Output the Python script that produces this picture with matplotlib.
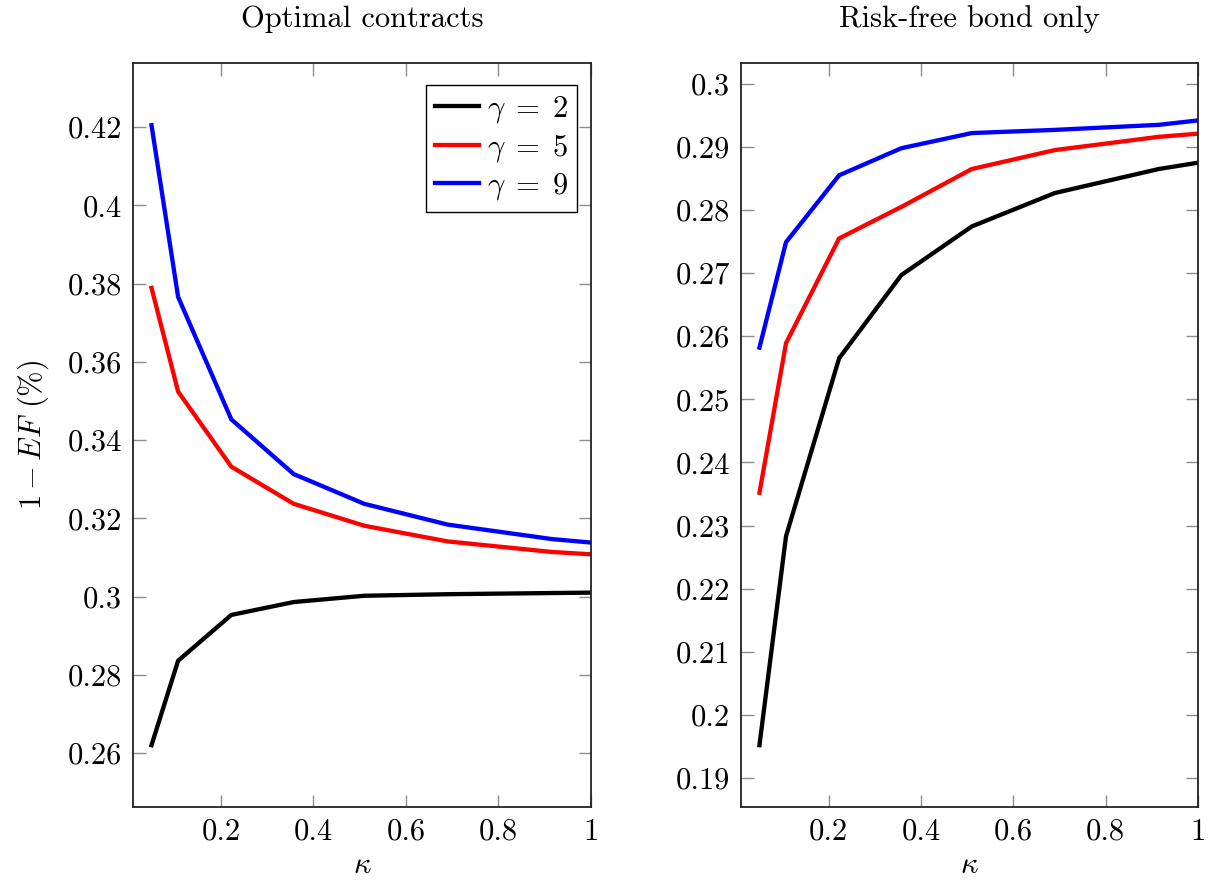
import matplotlib
matplotlib.use("Agg")
import matplotlib.pyplot as plt
from matplotlib.ticker import FuncFormatter, FixedLocator

plt.rcParams['font.family'] = ['cmr10', 'DejaVu Serif']
plt.rcParams['mathtext.fontset'] = 'cm'
plt.rcParams['axes.formatter.use_mathtext'] = True
plt.rcParams['axes.unicode_minus'] = False

kappa = [0.05, 0.1075, 0.2225, 0.3575, 0.51, 0.69, 0.915, 1.0]
labels = [r'$\gamma\;=\;2$', r'$\gamma\;=\;5$', r'$\gamma\;=\;9$']
colors = ['black', 'red', 'blue']

# Optimal contracts
opt_g2 = [0.2620, 0.2836, 0.2953, 0.2986, 0.3002, 0.3006, 0.3009, 0.3010]
opt_g5 = [0.3789, 0.3524, 0.3332, 0.3237, 0.3181, 0.3141, 0.3114, 0.3108]
opt_g9 = [0.4205, 0.3766, 0.3453, 0.3313, 0.3237, 0.3184, 0.3147, 0.3138]

# Risk-free bond only
rf_g2 = [0.1952, 0.2283, 0.2565, 0.2697, 0.2774, 0.2827, 0.2865, 0.2875]
rf_g5 = [0.2352, 0.2589, 0.2755, 0.2805, 0.2865, 0.2895, 0.2916, 0.2921]
rf_g9 = [0.2582, 0.2749, 0.2855, 0.2898, 0.2922, 0.2927, 0.2935, 0.2942]

xticks = [0.2, 0.4, 0.6, 0.8, 1.0]
yticks_left = [0.26, 0.28, 0.30, 0.32, 0.34, 0.36, 0.38, 0.40, 0.42]
yticks_right = [0.19, 0.20, 0.21, 0.22, 0.23, 0.24, 0.25, 0.26, 0.27, 0.28, 0.29, 0.30]

FS = 22
fig = plt.figure(figsize=(12.15, 8.82), dpi=100)
ax1 = fig.add_axes([133/1215, 1-807/882, 458/1215, 744/882])
ax2 = fig.add_axes([741/1215, 1-807/882, 457/1215, 744/882])

fmt = FuncFormatter(lambda v, p: ('%g' % round(v, 4)))

def style(ax, yticks, ylim, title):
    ax.set_xlim(0.01, 1.0)
    ax.set_ylim(*ylim)
    ax.xaxis.set_major_locator(FixedLocator(xticks))
    ax.yaxis.set_major_locator(FixedLocator(yticks))
    ax.xaxis.set_major_formatter(fmt)
    ax.yaxis.set_major_formatter(fmt)
    ax.tick_params(direction='in', length=9, width=1.0, color='#8c8c8c',
                   top=True, right=True, labelsize=FS, pad=8)
    for s in ax.spines.values():
        s.set_linewidth(1.3)
        s.set_color('#222222')
    ax.set_title(title, fontsize=FS, pad=26)
    ax.set_xlabel(r'$\kappa$', fontsize=FS, labelpad=4)

for ax, series in ((ax1, (opt_g2, opt_g5, opt_g9)), (ax2, (rf_g2, rf_g5, rf_g9))):
    for y, c, lab in zip(series, colors, labels):
        ax.plot(kappa, y, color=c, lw=3.1, label=lab, solid_joinstyle='miter')

style(ax1, yticks_left, (0.2462, 0.4364), 'Optimal contracts')
style(ax2, yticks_right, (0.1854, 0.3033), 'Risk-free bond only')
ax1.set_ylabel(r'$1-EF$ (%)', fontsize=FS, labelpad=12)

leg = ax1.legend(loc='upper right', bbox_to_anchor=(1 - 14/458, 1 - 22/744),
                 fontsize=FS, frameon=True, fancybox=False,
                 edgecolor='black', framealpha=1, handlelength=1.45,
                 handletextpad=0.25, borderpad=0.3, labelspacing=0.25,
                 borderaxespad=0.0)
leg.get_frame().set_linewidth(1.0)

fig.savefig('out.png', dpi=100)
